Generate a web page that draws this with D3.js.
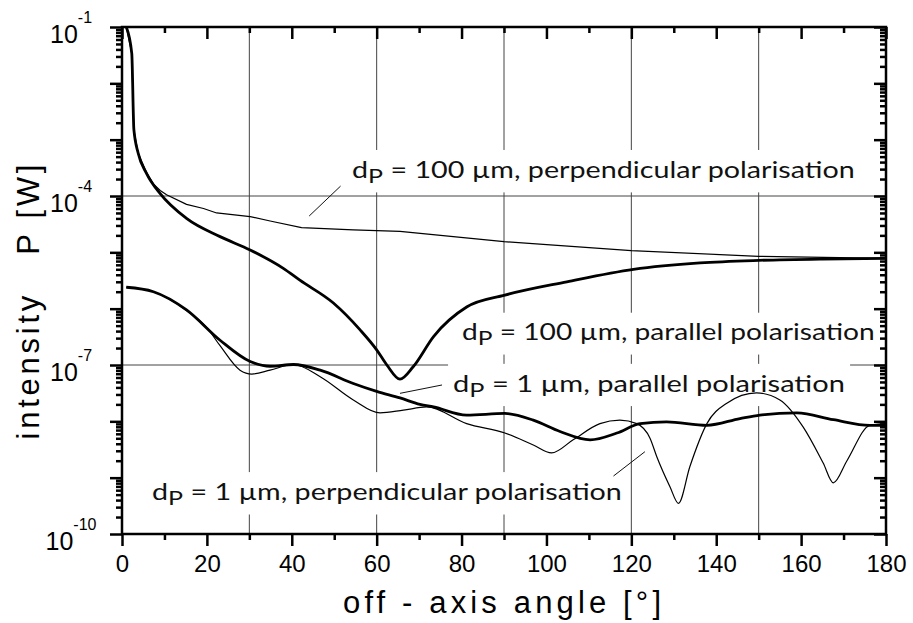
<!DOCTYPE html>
<html>
<head>
<meta charset="utf-8">
<script src="https://cdn.jsdelivr.net/npm/d3@7"></script>
<style>
  body { margin: 0; background: #fff; }
</style>
</head>
<body>
<svg id="chart"></svg>
<script>
// angles [deg] and intensities [W]
const perp100Angle = [1, 2.3, 2.8, 3.8, 5.8, 7.5, 9, 10.5, 15.2, 19.2, 22.3, 30.2, 34.9, 42.3, 54.5, 65.5, 90, 120, 150, 180]
const perp100Power = [1e-1, 3.4e-2, 1.5e-3, 5.8e-4, 2.6e-4, 1.6e-4, 1.25e-4, 1.05e-4, 7.1e-5, 6.0e-5, 5.0e-5, 4.3e-5, 3.6e-5, 2.75e-5, 2.5e-5, 2.35e-5, 1.55e-5, 1.07e-5, 8.5e-6, 7.8e-6]

const par100Angle = [1, 2.3, 2.8, 3.8, 5.8, 9, 15.2, 23.1, 30.2, 38, 41.9, 49.8, 56.1, 60, 62.4, 65.5, 68.6, 73.4, 81.2, 90.2, 104.8, 120.5, 136.2, 150, 165, 180]
const par100Power = [1e-1, 3.4e-2, 1.5e-3, 5.8e-4, 2.5e-4, 1.1e-4, 4.0e-5, 1.9e-5, 1.1e-5, 5.2e-6, 3.2e-6, 1.26e-6, 4.2e-7, 1.86e-7, 1.0e-7, 5.6e-8, 9.3e-8, 3.2e-7, 1.07e-6, 1.74e-6, 3.0e-6, 5.0e-6, 6.5e-6, 7.2e-6, 7.6e-6, 7.8e-6]

const par1Angle = [1, 7.4, 15.2, 23.1, 30.2, 34.9, 40.4, 46.7, 54.5, 60, 65.5, 70.2, 73.4, 81.2, 90.2, 96.9, 103.2, 110.3, 116.6, 122.1, 128.3, 137.8, 145.6, 150.3, 159, 167.6, 176.2, 180]
const par1Power = [2.4e-6, 2.0e-6, 9.5e-7, 2.75e-7, 1.15e-7, 9.5e-8, 1.02e-7, 8.1e-8, 4.7e-8, 3.4e-8, 2.6e-8, 2.0e-8, 1.8e-8, 1.29e-8, 1.38e-8, 1.05e-8, 6.6e-9, 4.7e-9, 6.2e-9, 9.1e-9, 9.8e-9, 8.5e-9, 1.12e-8, 1.29e-8, 1.41e-8, 1.07e-8, 8.5e-9, 8.5e-9]

const perp1Angle = [1, 7.4, 15.2, 20, 23.1, 27.8, 30.6, 34.9, 40.4, 46.7, 54.5, 60.8, 66.3, 71.8, 81.2, 90.2, 96.9, 101.2, 106.3, 112.6, 117.3, 121.3, 124.4, 126, 129.1, 131.1, 133.8, 137.8, 142.5, 149.5, 155, 160.5, 165.2, 167.6, 170.8, 176.2, 180]
const perp1Power = [2.4e-6, 2.0e-6, 9.3e-7, 4.6e-7, 2.2e-7, 8.1e-8, 6.9e-8, 8.1e-8, 1.02e-7, 6.2e-8, 2.4e-8, 1.41e-8, 1.58e-8, 1.8e-8, 9.1e-9, 6.2e-9, 3.8e-9, 2.75e-9, 4.7e-9, 9.1e-9, 1.05e-8, 9.1e-9, 5.0e-9, 2.35e-9, 6.9e-10, 3.5e-10, 1.58e-9, 9.1e-9, 2.1e-8, 3.2e-8, 2.4e-8, 7.9e-9, 1.82e-9, 8.1e-10, 2.0e-9, 8.5e-9, 9.1e-9]

// ticks and grid
const majorAngles = [0, 20, 40, 60, 80, 100, 120, 140, 160, 180]
const minorAngles = [10, 30, 50, 70, 90, 110, 130, 150, 170]
const decades = [1e-1, 1e-2, 1e-3, 1e-4, 1e-5, 1e-6, 1e-7, 1e-8, 1e-9, 1e-10]
const labelledDecades = [1e-1, 1e-4, 1e-7, 1e-10]
const gridAngles = [30, 60, 90, 120, 150]
const gridPowers = [1e-4, 1e-7]

// annotations, anchored in data coordinates
const labels = [
  { size: "100 µm, perpendicular polarisation", angle: 54.2, power: 2.09e-4, width: 503 },
  { size: "100 µm, parallel polarisation", angle: 80.1, power: 2.77e-7, width: 413 },
  { size: "1 µm, parallel polarisation", angle: 78.0, power: 3.36e-8, width: 392 },
  { size: "1 µm, perpendicular polarisation", angle: 7.07, power: 4.0e-10, width: 470 }
]
const pointers = [
  [51.5, 1.5e-4, 44.1, 4.41e-5],
  [75.4, 4.42e-8, 65.5, 3.14e-8],
  [115.8, 1.07e-9, 123.2, 2.89e-9]
]

const dimensions = {
  width: 764,
  height: 507,
  margin: { top: 27, right: 27, bottom: 89, left: 122 }
}

const svg = d3.select("#chart")
  .attr("width", dimensions.width + dimensions.margin.left + dimensions.margin.right)
  .attr("height", dimensions.height + dimensions.margin.top + dimensions.margin.bottom)
  .style("font-family", "'Liberation Sans', Arial, sans-serif")

const xScale = d3.scaleLinear().domain([0, 180]).range([0, dimensions.width])
const yScale = d3.scaleLog().domain([1e-10, 1e-1]).range([dimensions.height, 0])

const graph = svg.append("g")
  .attr("transform", `translate(${dimensions.margin.left}, ${dimensions.margin.top})`)

graph.append("clipPath").attr("id", "plotClip")
  .append("rect")
  .attr("width", dimensions.width)
  .attr("height", dimensions.height)

// grid lines
graph.selectAll(".vgrid")
  .data(gridAngles)
  .join("line")
  .attr("x1", (d) => xScale(d)).attr("x2", (d) => xScale(d))
  .attr("y1", 0).attr("y2", dimensions.height)
  .attr("stroke", "#444").attr("stroke-width", 1)
graph.selectAll(".hgrid")
  .data(gridPowers)
  .join("line")
  .attr("x1", 0).attr("x2", dimensions.width)
  .attr("y1", (d) => yScale(d)).attr("y2", (d) => yScale(d))
  .attr("stroke", "#444").attr("stroke-width", 1)

// label texts (white boxes hide the grid behind them)
const boxLayer = graph.append("g")
const curveLayer = graph.append("g").attr("clip-path", "url(#plotClip)")
const textLayer = graph.append("g")

labels.forEach((l) => {
  const t = textLayer.append("text")
    .attr("font-family", "Lato, 'Noto Sans', sans-serif")
    .attr("font-size", 23)
    .attr("fill", "#111")
  t.append("tspan").text("d")
  t.append("tspan").text("P").attr("font-size", 20).attr("dy", 5)
  t.append("tspan").text(" = " + l.size).attr("dy", -5)
  const w = t.node().getBBox().width
  const sx = l.width / w
  t.attr("transform", `translate(${xScale(l.angle)}, ${yScale(l.power)}) scale(${sx}, 1)`)
  const b = t.node().getBBox()
  boxLayer.append("rect")
    .attr("x", xScale(l.angle) - 5)
    .attr("y", yScale(l.power) + b.y - 5)
    .attr("width", l.width + 10)
    .attr("height", b.height + 10)
    .attr("fill", "#fff")
})

textLayer.selectAll(".pointer")
  .data(pointers)
  .join("line")
  .attr("x1", (d) => xScale(d[0])).attr("y1", (d) => yScale(d[1]))
  .attr("x2", (d) => xScale(d[2])).attr("y2", (d) => yScale(d[3]))
  .attr("stroke", "#111").attr("stroke-width", 1)

// curves
const series = [
  { angle: perp100Angle, power: perp100Power, width: 1.2, curve: d3.curveLinear },
  { angle: par100Angle, power: par100Power, width: 2.8, curve: d3.curveMonotoneX },
  { angle: par1Angle, power: par1Power, width: 2.8, curve: d3.curveMonotoneX },
  { angle: perp1Angle, power: perp1Power, width: 1.2, curve: d3.curveMonotoneX }
]
series.forEach((s) => {
  const line = d3.line()
    .x((d, i) => xScale(s.angle[i]))
    .y((d) => yScale(d))
    .curve(s.curve)
  curveLayer.append("path")
    .attr("d", line(s.power))
    .attr("fill", "none")
    .attr("stroke", "#000")
    .attr("stroke-width", s.width)
    .attr("stroke-linejoin", "round")
})

// axes: bottom with labels, mirrored top, left and right
const styleAxis = (g) => {
  g.select(".domain").remove()
  g.selectAll(".tick line").attr("stroke", "#000").attr("stroke-width", 2.5)
}
graph.append("g")
  .attr("transform", `translate(0, ${dimensions.height})`)
  .call(d3.axisBottom(xScale).tickValues(majorAngles).tickSize(12).tickPadding(9).tickFormat(d3.format("d")))
  .call(styleAxis)
  .selectAll("text")
  .attr("font-size", 24)
  .attr("font-family", "'Liberation Sans', Arial, sans-serif")
  .attr("fill", "#000")
graph.append("g")
  .attr("transform", `translate(0, ${dimensions.height})`)
  .call(d3.axisBottom(xScale).tickValues(minorAngles).tickSize(6).tickFormat(""))
  .call(styleAxis)
graph.append("g")
  .call(d3.axisBottom(xScale).tickValues(majorAngles).tickSize(12).tickFormat(""))
  .call(styleAxis)
graph.append("g")
  .call(d3.axisBottom(xScale).tickValues(minorAngles).tickSize(6).tickFormat(""))
  .call(styleAxis)

const minorPowers = []
decades.slice(1).forEach((p) => {
  for (let k = 2; k <= 9; k++) minorPowers.push(k * p)
})
;[0, dimensions.width].forEach((xPos) => {
  graph.append("g")
    .attr("transform", `translate(${xPos}, 0)`)
    .call(d3.axisLeft(yScale).tickValues(decades).tickSize(12).tickFormat(""))
    .call(styleAxis)
  graph.append("g")
    .attr("transform", `translate(${xPos}, 0)`)
    .call(d3.axisLeft(yScale).tickValues(minorPowers).tickSize(6).tickFormat(""))
    .call(styleAxis)
})

// y tick labels as 10 with superscript exponent
graph.selectAll(".ylabel")
  .data(labelledDecades)
  .join("text")
  .attr("class", "ylabel")
  .attr("x", -51)
  .attr("y", (d) => yScale(d) + 16)
  .attr("text-anchor", "middle")
  .attr("font-size", 25)
  .attr("fill", "#000")
  .each(function (d) {
    const t = d3.select(this)
    t.append("tspan").text("10")
    t.append("tspan").text(Math.round(Math.log10(d))).attr("font-size", 16).attr("dy", -20)
  })

// frame
graph.append("rect")
  .attr("width", dimensions.width)
  .attr("height", dimensions.height)
  .attr("fill", "none")
  .attr("stroke", "#000")
  .attr("stroke-width", 2.5)

// axis titles
svg.append("text")
  .attr("x", dimensions.margin.left + dimensions.width / 2 - 2)
  .attr("y", 613)
  .attr("text-anchor", "middle")
  .attr("font-size", 31)
  .attr("textLength", 318)
  .attr("lengthAdjust", "spacing")
  .attr("fill", "#000")
  .text("off - axis angle [°]")
svg.append("text")
  .attr("transform", "translate(39, 302) rotate(-90)")
  .attr("text-anchor", "middle")
  .attr("font-size", 31)
  .attr("textLength", 275)
  .attr("lengthAdjust", "spacing")
  .attr("fill", "#000")
  .attr("xml:space", "preserve")
  .style("white-space", "pre")
  .text("intensity   P [W]")
</script>
</body>
</html>
